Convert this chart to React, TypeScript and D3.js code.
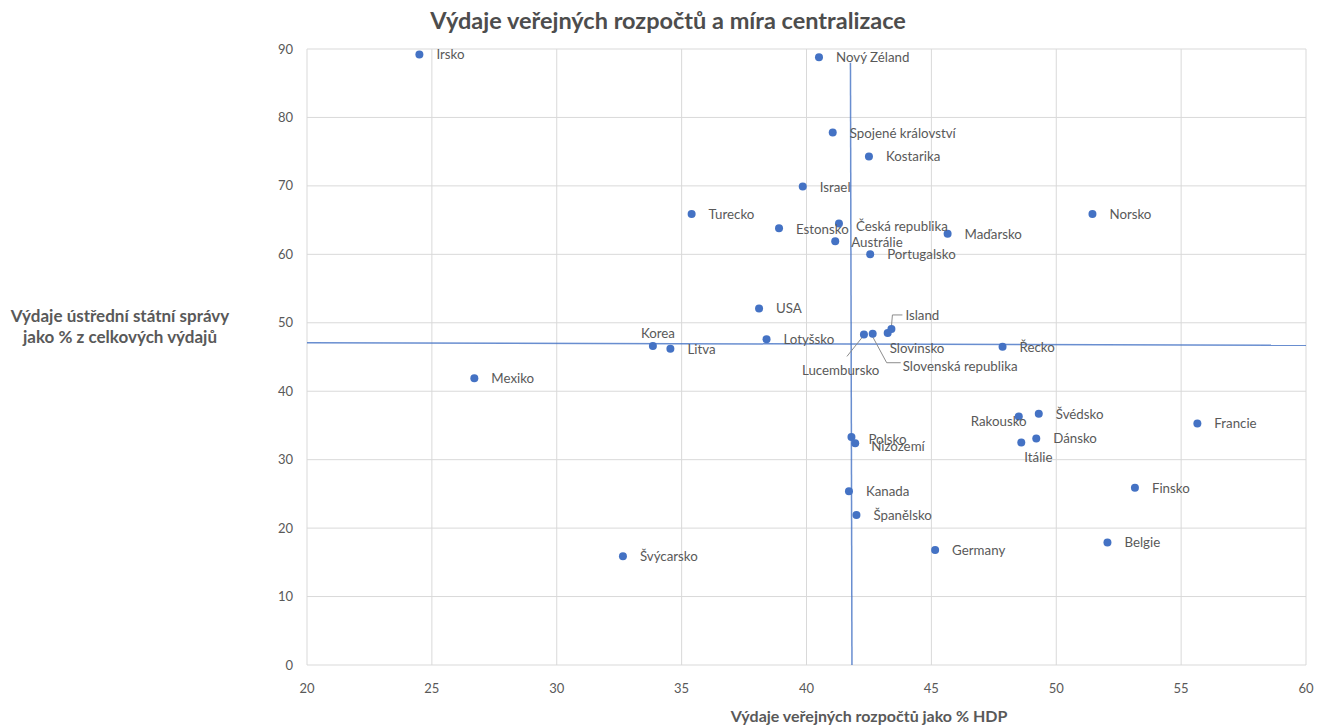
import React from "react";
import * as d3 from "d3";

// Country names and their two measures
const countries = [
  "Irsko", "Nový Zéland", "Spojené království", "Kostarika", "Israel", "Turecko",
  "Norsko", "Česká republika", "Estonsko", "Maďarsko", "Austrálie", "Portugalsko",
  "USA", "Island", "Slovinsko", "Lucembursko", "Slovenská republika", "Lotyšsko",
  "Korea", "Litva", "Řecko", "Mexiko", "Rakousko", "Švédsko", "Dánsko", "Itálie",
  "Francie", "Polsko", "Nizozemí", "Kanada", "Španělsko", "Finsko", "Belgie",
  "Germany", "Švýcarsko",
];
// Public budget expenditure as % of GDP
const spendingGdp = [
  24.5, 40.5, 41.05, 42.5, 39.85, 35.4,
  51.45, 41.3, 38.9, 45.65, 41.15, 42.55,
  38.1, 43.4, 43.25, 42.3, 42.65, 38.4,
  33.85, 34.55, 47.85, 26.7, 48.5, 49.3, 49.2, 48.6,
  55.65, 41.8, 41.95, 41.7, 42.0, 53.15, 52.05,
  45.15, 32.65,
];
// Central government share of total expenditure (%)
const centralShare = [
  89.2, 88.8, 77.8, 74.3, 69.9, 65.9,
  65.9, 64.5, 63.8, 63.0, 61.9, 60.0,
  52.1, 49.1, 48.5, 48.3, 48.4, 47.6,
  46.6, 46.2, 46.5, 41.9, 36.3, 36.7, 33.1, 32.5,
  35.3, 33.3, 32.4, 25.4, 21.9, 25.9, 17.9,
  16.8, 15.9,
];

// Reference lines (averages)
const avgLineH = [
  { x: 20, y: 47.1 },
  { x: 60, y: 46.7 },
];
const avgLineV = [
  { x: 41.76, y: 88 },
  { x: 41.82, y: 0 },
];

const xTicks = [20, 25, 30, 35, 40, 45, 50, 55, 60];
const yTicks = [0, 10, 20, 30, 40, 50, 60, 70, 80, 90];

const title = "Výdaje veřejných rozpočtů a míra centralizace";
const xTitle = "Výdaje veřejných rozpočtů jako % HDP";
const yTitle = ["Výdaje ústřední státní správy", "jako % z celkových výdajů"];

// Label placement (pixel offsets from the marker); default is right of the marker
type Place = { dx: number; dy: number; leader?: [number, number][] };
const labelPlace: Record<string, Place> = {
  Korea: { dx: -12, dy: -8 },
  Rakousko: { dx: -48, dy: 9 },
  Itálie: { dx: 3, dy: 19 },
  Slovinsko: { dx: 2, dy: 20 },
  Island: { dx: 14, dy: -9, leader: [[0, -2], [1, -14], [11, -14]] },
  Lucembursko: { dx: -62, dy: 41, leader: [[-1, 2], [-17, 22]] },
  "Slovenská republika": { dx: 30, dy: 37, leader: [[0, 3], [14, 29], [28, 29]] },
  "Česká republika": { dx: 17, dy: 7 },
  Estonsko: { dx: 17, dy: 6 },
  Austrálie: { dx: 16, dy: 6 },
  Polsko: { dx: 17, dy: 7 },
  Nizozemí: { dx: 16, dy: 8 },
};

const W = 1318;
const H = 726;
const margin = { left: 307, right: 12, top: 49, bottom: 61 };

const FONT = "Lato, 'Open Sans', sans-serif";
const TEXT = "#595959";
const GRID = "#d9d9d9";
const BLUE = "#4472c4";

export default function App() {
  const x = d3
    .scaleLinear()
    .domain([20, 60])
    .range([margin.left, W - margin.right]);
  const y = d3
    .scaleLinear()
    .domain([0, 90])
    .range([H - margin.bottom, margin.top]);

  const line = d3
    .line<{ x: number; y: number }>()
    .x((d) => x(d.x))
    .y((d) => y(d.y));

  return (
    <svg
      width={W}
      height={H}
      style={{ position: "absolute", left: 0, top: 0, background: "#fff" }}
      fontFamily={FONT}
    >
      <rect width={W} height={H} fill="#fff" />
      {/* grid */}
      {xTicks.map((t) => (
        <line key={"gx" + t} x1={x(t)} x2={x(t)} y1={y(0)} y2={y(90)} stroke={GRID} strokeWidth={1} />
      ))}
      {yTicks.map((t) => (
        <line key={"gy" + t} x1={x(20)} x2={x(60)} y1={y(t)} y2={y(t)} stroke={GRID} strokeWidth={1} />
      ))}
      {/* tick labels */}
      {xTicks.map((t) => (
        <text key={"tx" + t} x={x(t)} y={y(0) + 28} textAnchor="middle" fontSize={13} fill={TEXT}>
          {t}
        </text>
      ))}
      {yTicks.map((t) => (
        <text key={"ty" + t} x={x(20) - 14} y={y(t) + 4.5} textAnchor="end" fontSize={13} fill={TEXT}>
          {t}
        </text>
      ))}
      {/* average lines */}
      <path d={line(avgLineH) || ""} fill="none" stroke={BLUE} strokeOpacity={0.8} strokeWidth={1.5} />
      <path d={line(avgLineV) || ""} fill="none" stroke={BLUE} strokeOpacity={0.8} strokeWidth={1.5} />
      {/* leader lines */}
      {countries.map((c, i) => {
        const p = labelPlace[c];
        if (!p || !p.leader) return null;
        const cx = x(spendingGdp[i]);
        const cy = y(centralShare[i]);
        const d = d3.line()(p.leader.map(([a, b]) => [cx + a, cy + b] as [number, number])) || "";
        return <path key={"ld" + c} d={d} fill="none" stroke="#8c8c8c" strokeWidth={1} />;
      })}
      {/* markers */}
      {countries.map((c, i) => (
        <circle key={"pt" + c} cx={x(spendingGdp[i])} cy={y(centralShare[i])} r={4} fill={BLUE} />
      ))}
      {/* data labels */}
      {countries.map((c, i) => {
        const p = labelPlace[c] || { dx: 17, dy: 5 };
        return (
          <text
            key={"lb" + c}
            x={x(spendingGdp[i]) + p.dx}
            y={y(centralShare[i]) + p.dy}
            fontSize={13.3}
            fill={TEXT}
          >
            {c}
          </text>
        );
      })}
      {/* titles */}
      <text x={668} y={29} textAnchor="middle" fontSize={23.5} fontWeight="bold" fill="#4d4d4d">
        {title}
      </text>
      <text x={869} y={722} textAnchor="middle" fontSize={16} fontWeight="bold" fill={TEXT}>
        {xTitle}
      </text>
      <text x={120} y={322} textAnchor="middle" fontSize={17} fontWeight="bold" fill={TEXT}>
        {yTitle[0]}
      </text>
      <text x={120} y={343} textAnchor="middle" fontSize={17} fontWeight="bold" fill={TEXT}>
        {yTitle[1]}
      </text>
    </svg>
  );
}
